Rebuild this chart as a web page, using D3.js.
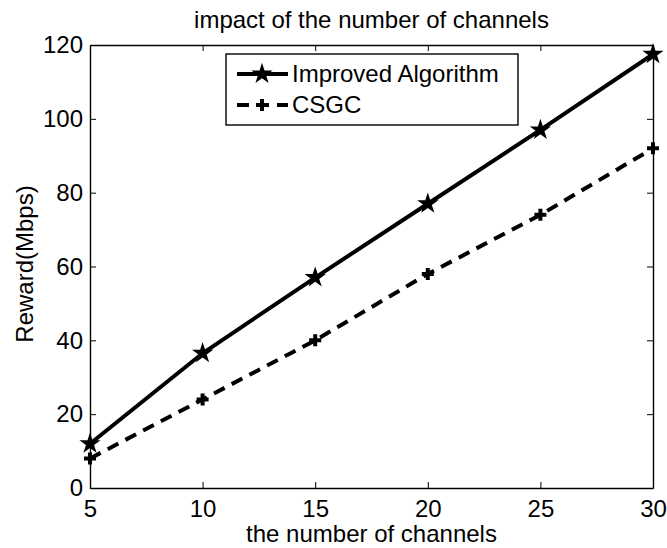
<!DOCTYPE html>
<html>
<head>
<meta charset="utf-8">
<script src="https://cdn.jsdelivr.net/npm/d3@7"></script>
<style>
  body { margin: 0; background: #fff; }
  text { font-family: "Liberation Sans", Arial, sans-serif; fill: #000; }
</style>
</head>
<body>
<div id="chart"></div>
<script>
// Data
const channels = [5, 10, 15, 20, 25, 30];
const improved = [12, 36.5, 57, 77, 97, 117.5];
const csgc = [8, 24, 40, 58, 74, 92];
const xTicks = [5, 10, 15, 20, 25, 30];
const yTicks = [0, 20, 40, 60, 80, 100, 120];

const W = 667, H = 548;
const margin = { top: 45, right: 14, bottom: 60, left: 90 };
const fs = 24;

const svg = d3.select("#chart").append("svg")
    .attr("width", W)
    .attr("height", H);

const x = d3.scaleLinear().domain([5, 30]).range([margin.left, W - margin.right]);
const y = d3.scaleLinear().domain([0, 120]).range([H - margin.bottom, margin.top]);

// Axes with inward ticks on all four sides (box style)
const tick = 6;
const gx = svg.append("g")
    .attr("transform", `translate(0,${y(0)})`)
    .call(d3.axisBottom(x).tickValues(xTicks).tickSizeInner(-tick).tickSizeOuter(0).tickPadding(12));
const gxTop = svg.append("g")
    .attr("transform", `translate(0,${y(120)})`)
    .call(d3.axisTop(x).tickValues(xTicks).tickSizeInner(-tick).tickSizeOuter(0).tickFormat(""));
const gy = svg.append("g")
    .attr("transform", `translate(${x(5)},0)`)
    .call(d3.axisLeft(y).tickValues(yTicks).tickSizeInner(-tick).tickSizeOuter(0).tickPadding(7));
const gyRight = svg.append("g")
    .attr("transform", `translate(${x(30)},0)`)
    .call(d3.axisRight(y).tickValues(yTicks).tickSizeInner(-tick).tickSizeOuter(0).tickFormat(""));

[gx, gxTop, gy, gyRight].forEach(g => {
    g.select(".domain").attr("stroke", "#000").attr("stroke-width", 1.4);
    g.selectAll(".tick line").attr("stroke", "#000").attr("stroke-width", 1);
    g.selectAll(".tick text")
        .style("font-family", "'Liberation Sans', Arial, sans-serif")
        .style("font-size", fs + "px")
        .attr("fill", "#000");
});

// Title and axis labels
svg.append("text")
    .attr("x", (x(5) + x(30)) / 2)
    .attr("y", 28)
    .attr("text-anchor", "middle")
    .style("font-size", fs + "px")
    .text("impact of the number of channels");

svg.append("text")
    .attr("x", (x(5) + x(30)) / 2)
    .attr("y", 542)
    .attr("text-anchor", "middle")
    .style("font-size", fs + "px")
    .text("the number of channels");

svg.append("text")
    .attr("transform", `translate(33,264) rotate(-90)`)
    .attr("text-anchor", "middle")
    .style("font-size", fs + "px")
    .text("Reward(Mbps)");

// Lines
const line = d3.line().x((d, i) => x(channels[i])).y(d => y(d));

svg.append("path")
    .datum(improved)
    .attr("d", line)
    .attr("fill", "none")
    .attr("stroke", "#000")
    .attr("stroke-width", 4);

svg.append("path")
    .datum(csgc)
    .attr("d", line)
    .attr("fill", "none")
    .attr("stroke", "#000")
    .attr("stroke-width", 4)
    .attr("stroke-dasharray", "12,8");

// Markers
const star = d3.symbol().type(d3.symbolStar).size(140);
const plus = d3.symbol().type(d3.symbolCross).size(80);

svg.selectAll(".star")
    .data(improved)
    .enter()
    .append("path")
    .attr("class", "star")
    .attr("transform", (d, i) => `translate(${x(channels[i])},${y(d)})`)
    .attr("d", star)
    .attr("fill", "#000");

svg.selectAll(".plus")
    .data(csgc)
    .enter()
    .append("path")
    .attr("class", "plus")
    .attr("transform", (d, i) => `translate(${x(channels[i])},${y(d)})`)
    .attr("d", plus)
    .attr("fill", "#000");

// Legend
const legend = svg.append("g").attr("transform", "translate(226,54)");
legend.append("rect")
    .attr("width", 292)
    .attr("height", 71)
    .attr("fill", "#fff")
    .attr("stroke", "#000")
    .attr("stroke-width", 1.4);

const items = [
    { name: "Improved Algorithm", dash: null, sym: star },
    { name: "CSGC", dash: "12,8", sym: plus }
];
items.forEach((it, i) => {
    const row = legend.append("g").attr("transform", `translate(0,${20 + i * 31})`);
    row.append("line")
        .attr("x1", 11).attr("x2", 62)
        .attr("stroke", "#000")
        .attr("stroke-width", 4)
        .attr("stroke-dasharray", it.dash);
    row.append("path")
        .attr("transform", "translate(36,0)")
        .attr("d", it.sym)
        .attr("fill", "#000");
    row.append("text")
        .attr("x", 66)
        .attr("y", 0)
        .attr("dy", "0.35em")
        .style("font-size", fs + "px")
        .text(it.name);
});
</script>
</body>
</html>
